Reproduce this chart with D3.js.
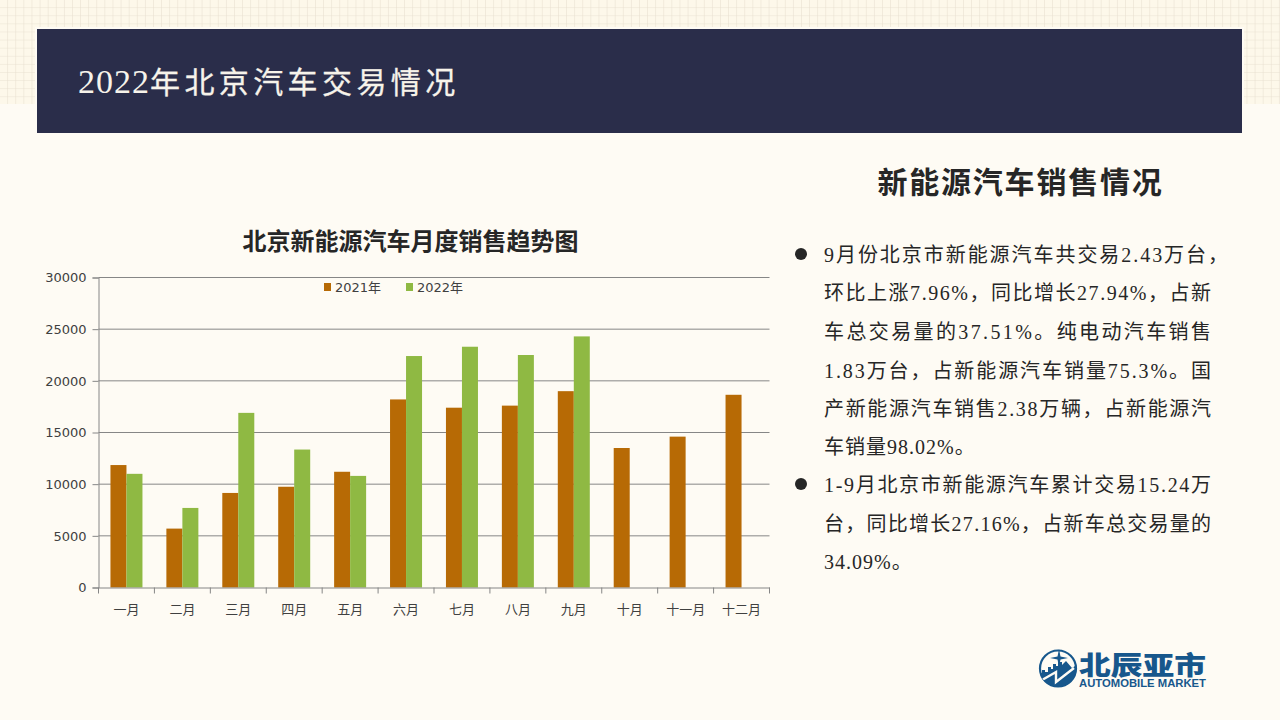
<!DOCTYPE html>
<html><head><meta charset="utf-8">
<script src="https://cdn.jsdelivr.net/npm/d3@7"></script>
<style>
html,body{margin:0;padding:0;background:#fefbf4;overflow:hidden}
svg{display:block}
</style></head><body>
<svg id="c" width="1280" height="720"></svg>
<script>
const months = ["一月","二月","三月","四月","五月","六月","七月","八月","九月","十月","十一月","十二月"];
const series2021 = [11850,5700,9150,9750,11200,18200,17400,17600,19000,13500,14600,18650];
const series2022 = [11000,7700,16900,13350,10800,22400,23300,22500,24300,null,null,null];
const seriesNames = ["2021年","2022年"];
const yTicks = [0,5000,10000,15000,20000,25000,30000];
const titleYear = "2022";
const titleRest = "年北京汽车交易情况";
const sideTitle = "新能源汽车销售情况";
const chartTitle = "北京新能源汽车月度销售趋势图";
const para1 = ["9月份北京市新能源汽车共交易2.43万台，","环比上涨7.96%，同比增长27.94%，占新","车总交易量的37.51%。纯电动汽车销售","1.83万台，占新能源汽车销量75.3%。国","产新能源汽车销售2.38万辆，占新能源汽","车销量98.02%。"];
const para2 = ["1-9月北京市新能源汽车累计交易15.24万","台，同比增长27.16%，占新车总交易量的","34.09%。"];

const svg = d3.select("#c");
const SERIF = "'Liberation Serif','Noto Sans CJK SC',serif";
const SANS = "'DejaVu Sans','Noto Sans CJK SC',sans-serif";
const CJK = "'Noto Sans CJK SC',sans-serif";

// background
const defs = svg.append("defs");
const pat = defs.append("pattern").attr("id","grid").attr("width",8.1).attr("height",8.1).attr("patternUnits","userSpaceOnUse");
pat.append("rect").attr("width",8.1).attr("height",8.1).attr("fill","#fdf8ea");
pat.append("path").attr("d","M8.1 0V8.1M0 8.1H8.1").attr("stroke","#e8e0d0").attr("stroke-width",1.1).attr("fill","none");
svg.append("rect").attr("width",1280).attr("height",720).attr("fill","#fefbf4");
svg.append("rect").attr("width",1280).attr("height",104).attr("fill","url(#grid)");
svg.append("rect").attr("x",35).attr("y",27).attr("width",1209).attr("height",108).attr("fill","#fefbf4");
svg.append("rect").attr("x",37).attr("y",29).attr("width",1205).attr("height",104).attr("fill","#2a2d4a");
const tt = svg.append("text").attr("x",78).attr("y",93).attr("font-family",SERIF).attr("fill","#f7f3ea");
tt.append("tspan").attr("font-size",34).attr("letter-spacing",1).text(titleYear);
tt.append("tspan").attr("font-size",30).attr("letter-spacing",4.4).attr("stroke","#f7f3ea").attr("stroke-width",0.3).text(titleRest);

svg.append("text").attr("x",1020.5).attr("y",193).attr("text-anchor","middle").attr("font-family",CJK)
  .attr("font-weight",700).attr("font-size",30).attr("letter-spacing",1.8).attr("fill","#262626").text(sideTitle);

// chart
const M = {l:98.5,r:769.5,t:277.5,b:587.5};
const x = d3.scaleBand().domain(months).range([M.l,M.r]);
const x1 = d3.scaleBand().domain(seriesNames).range([x.bandwidth()/2-16,x.bandwidth()/2+16]);
const y = d3.scaleLinear().domain([0,30000]).range([M.b,M.t]);
const colors = d3.scaleOrdinal().domain(seriesNames).range(["#b76a05","#8fb943"]);
const axisColor = "#868686";

svg.append("text").attr("x",410.5).attr("y",250).attr("text-anchor","middle").attr("font-family",CJK)
  .attr("font-weight",700).attr("font-size",24).attr("fill","#262626").text(chartTitle);

const gy = svg.append("g").attr("transform",`translate(${M.l},0)`)
  .call(d3.axisLeft(y).tickValues(yTicks).tickFormat(d3.format("d")).tickSize(6).tickPadding(6));
gy.selectAll("path,line").attr("stroke",axisColor);
gy.selectAll("text").attr("font-family",SANS).attr("font-size",13).attr("fill","#404040");
svg.append("g").selectAll("line").data(yTicks.filter(d=>d>0)).join("line")
  .attr("x1",M.l).attr("x2",M.r).attr("y1",d=>y(d)).attr("y2",d=>y(d)).attr("stroke",axisColor);

[series2021,series2022].forEach((vals,k)=>{
  const name = seriesNames[k];
  svg.append("g").selectAll("rect").data(vals.map((v,i)=>({m:months[i],v})).filter(d=>d.v!=null)).join("rect")
    .attr("x",d=>x(d.m)+x1(name)).attr("width",x1.bandwidth())
    .attr("y",d=>y(d.v)).attr("height",d=>y(0)-y(d.v)).attr("fill",colors(name));
});

const gx = svg.append("g").attr("transform",`translate(0,${M.b})`)
  .call(d3.axisBottom(x).tickSize(0).tickPadding(17));
gx.selectAll("path").attr("stroke",axisColor);
gx.selectAll("text").attr("font-family",SANS).attr("font-size",13).attr("fill","#404040");
svg.append("g").selectAll("line").data(months.concat("end")).join("line")
  .attr("x1",(d,i)=>i<12?x(d):M.r).attr("x2",(d,i)=>i<12?x(d):M.r)
  .attr("y1",M.b).attr("y2",M.b+6).attr("stroke",axisColor);

// legend
const lx = d3.scaleOrdinal().domain(seriesNames).range([324,406]);
const lg = svg.append("g").selectAll("g").data(seriesNames).join("g").attr("transform",d=>`translate(${lx(d)},0)`);
lg.append("rect").attr("y",283).attr("width",7).attr("height",8).attr("fill",d=>colors(d));
lg.append("text").attr("x",11).attr("y",291.5).attr("font-family",SANS).attr("font-size",13).attr("fill","#404040").text(d=>d);

// text
const lineY1 = [262,300,339,378,416,454];
const lineW1 = [404,387,387,387,387,null];
const lineY2 = [492,531,569];
const lineW2 = [387,387,null];
function para(lines,ys,ws){
  lines.forEach((t,i)=>{
    const e = svg.append("text").attr("x",824).attr("y",ys[i]).attr("font-family",SERIF)
      .attr("font-size",20).attr("fill","#262626").text(t);
    if(ws[i]) e.attr("textLength",ws[i]).attr("lengthAdjust","spacing");
    else e.attr("letter-spacing",1);
  });
  svg.append("circle").attr("cx",801).attr("cy",ys[0]-8).attr("r",6).attr("fill","#262626");
}
para(para1,lineY1,lineW1);
para(para2,lineY2,lineW2);

// logo
const blue = "#17578c";
const logo = svg.append("g");
defs.append("clipPath").attr("id","lc").append("circle").attr("cx",1058).attr("cy",668.5).attr("r",18.5);
logo.append("circle").attr("cx",1058).attr("cy",668.5).attr("r",18).attr("fill","none").attr("stroke",blue).attr("stroke-width",2.2);
logo.append("path").attr("clip-path","url(#lc)")
  .attr("d","M1039 673L1042 673V670H1045V672H1048V667H1051V669H1053V664H1056V666H1058V662H1062V665L1066 661L1072 668L1078 664V690H1039Z").attr("fill",blue);
logo.append("path").attr("clip-path","url(#lc)")
  .attr("d","M1042 680L1056 672L1056 682L1074 668").attr("fill","none").attr("stroke","#fefbf4").attr("stroke-width",2.4);
logo.append("path").attr("d","M1059 649L1060.5 656.5L1068 658L1060.5 659.5L1059 667L1057.5 659.5L1050 658L1057.5 656.5Z").attr("fill",blue);
logo.append("text").attr("x",1079).attr("y",674.5).attr("font-family",CJK).attr("font-weight",900).attr("font-size",26).attr("fill",blue)
  .attr("textLength",127).attr("lengthAdjust","spacingAndGlyphs").text("北辰亚市");
logo.append("text").attr("x",1079).attr("y",687).attr("font-family","'Liberation Sans',sans-serif").attr("font-weight",700).attr("font-size",11.5)
  .attr("fill",blue).attr("textLength",127).attr("lengthAdjust","spacingAndGlyphs").text("AUTOMOBILE MARKET");
</script>
</body></html>
